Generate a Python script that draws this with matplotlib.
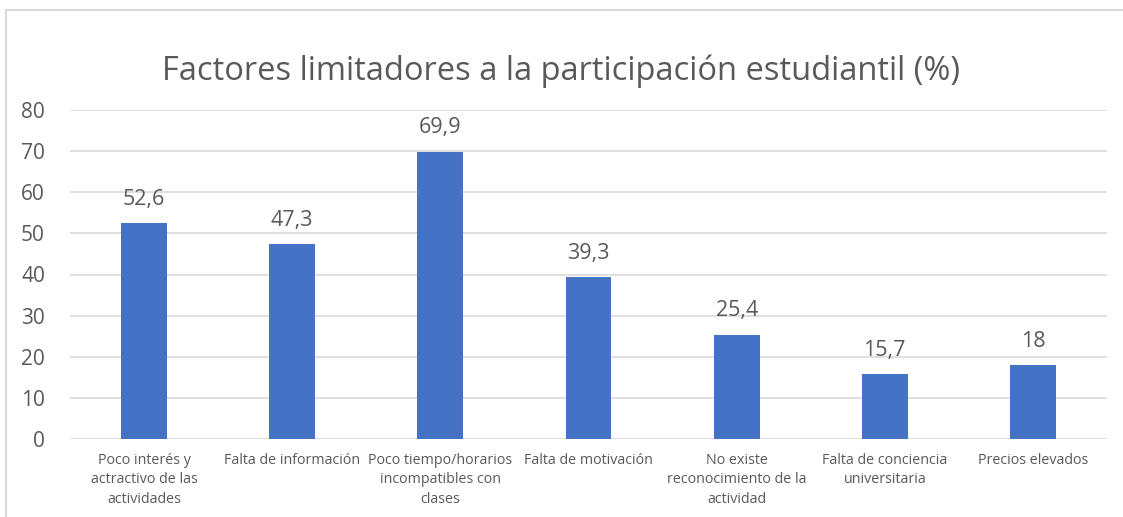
import numpy as np
import matplotlib
matplotlib.use('Agg')
from matplotlib import pyplot as plt
from matplotlib.patches import Rectangle

categories = ['Poco interés y\nactractivo de las\nactividades',
              'Falta de información',
              'Poco tiempo/horarios\nincompatibles con\nclases',
              'Falta de motivación',
              'No existe\nreconocimiento de la\nactividad',
              'Falta de conciencia\nuniversitaria',
              'Precios elevados']
values = [52.6, 47.3, 69.9, 39.3, 25.4, 15.7, 18]
value_labels = ['52,6', '47,3', '69,9', '39,3', '25,4', '15,7', '18']
yticks = [0, 10, 20, 30, 40, 50, 60, 70, 80]

plt.rcParams['font.family'] = ['Open Sans', 'DejaVu Sans']
txt = '#595959'

fig = plt.figure(figsize=(11.23, 5.17), dpi=100)
W, H = 1123, 517
# axes in pixels: x 70-1107, y 110 (80) to 439 (0)
ax = fig.add_axes([70 / W, 1 - 439 / H, (1107 - 70) / W, (439 - 110) / H])

# chart border
fig.patches.append(Rectangle((6 / W, -0.1), 1.2, 1.1 - 10 / H, transform=fig.transFigure,
                             fill=False, edgecolor='#d9d9d9', linewidth=1.5))

x = np.arange(len(values))
ax.bar(x, values, width=0.31, color='#4472C4', zorder=3)
for xi, v, lab in zip(x, values, value_labels):
    ax.text(xi, v + 3.2, lab, ha='center', va='bottom', fontsize=15.5, color=txt)

ax.set_xlim(-0.5, len(values) - 0.5)
ax.set_ylim(0, 80)
ax.set_yticks(yticks)
ax.set_yticklabels([str(t) for t in yticks], fontsize=15, color=txt)
ax.set_xticks(x)
ax.set_xticklabels(categories, fontsize=10.3, color=txt, linespacing=1.4, va='top')
ax.tick_params(axis='both', length=0)
ax.tick_params(axis='y', pad=18)
ax.tick_params(axis='x', pad=10)
ax.grid(axis='y', color='#d9d9d9', linewidth=1.2, zorder=0)
for s in ax.spines.values():
    s.set_visible(False)

fig.text(0.5, 1 - 71 / H, 'Factores limitadores a la participación estudiantil (%)',
         ha='center', va='center', fontsize=23.5, color=txt)

fig.savefig('out.png', dpi=100)
